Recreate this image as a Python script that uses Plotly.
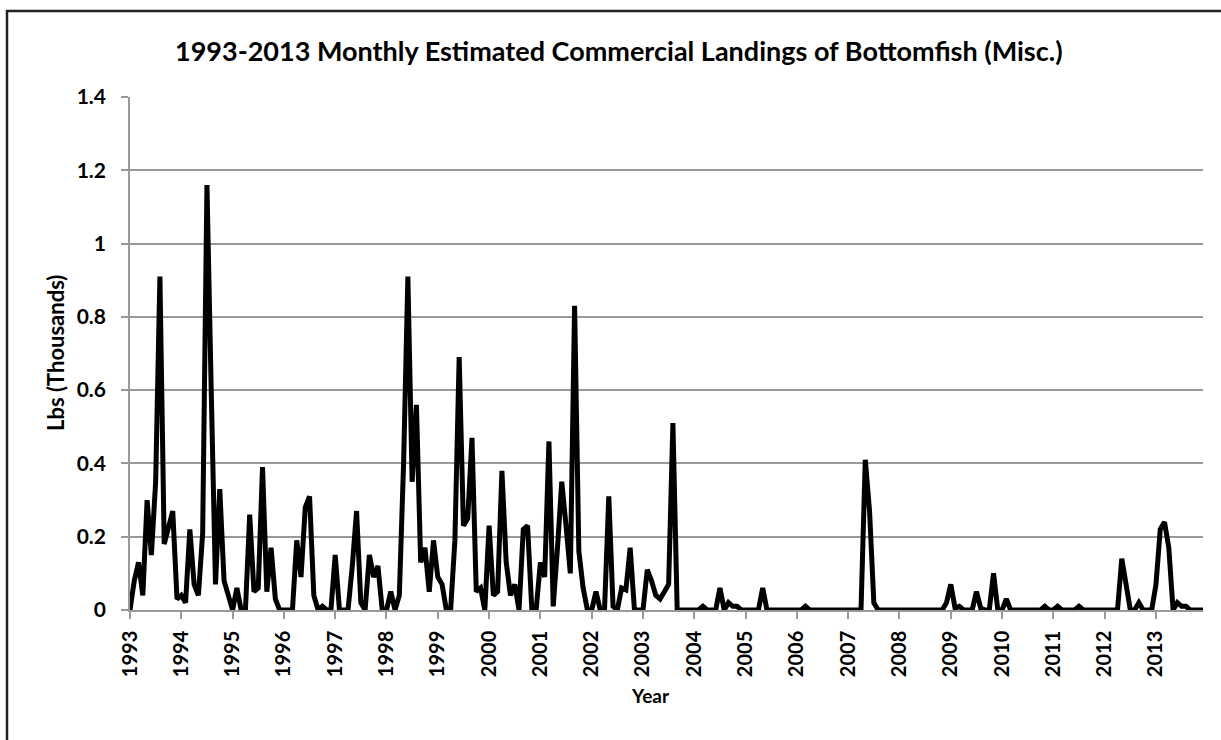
import plotly.graph_objects as go

years = list(range(1993, 2014))

# Monthly landings (thousands of lbs), Jan..Dec per year
y1993 = [0, 0.08, 0.13, 0.04, 0.30, 0.15, 0.35, 0.91, 0.18, 0.22, 0.27, 0.03]
y1994 = [0.04, 0.02, 0.22, 0.07, 0.04, 0.21, 1.16, 0.60, 0.07, 0.33, 0.08, 0.04]
y1995 = [0, 0.06, 0, 0, 0.26, 0.05, 0.06, 0.39, 0.05, 0.17, 0.03, 0]
y1996 = [0, 0, 0, 0.19, 0.09, 0.28, 0.31, 0.04, 0, 0.01, 0, 0]
y1997 = [0.15, 0, 0, 0, 0.12, 0.27, 0.02, 0, 0.15, 0.09, 0.12, 0]
y1998 = [0, 0.05, 0, 0.04, 0.40, 0.91, 0.35, 0.56, 0.13, 0.17, 0.05, 0.19]
y1999 = [0.09, 0.07, 0, 0, 0.19, 0.69, 0.23, 0.25, 0.47, 0.05, 0.06, 0]
y2000 = [0.23, 0.04, 0.05, 0.38, 0.13, 0.04, 0.07, 0, 0.22, 0.23, 0, 0]
y2001 = [0.13, 0.09, 0.46, 0.01, 0.17, 0.35, 0.23, 0.10, 0.83, 0.16, 0.06, 0]
y2002 = [0, 0.05, 0, 0, 0.31, 0.01, 0, 0.06, 0.055, 0.17, 0, 0]
y2003 = [0, 0.11, 0.08, 0.04, 0.03, 0.05, 0.07, 0.51, 0, 0, 0, 0]
y2004 = [0, 0, 0.01, 0, 0, 0, 0.06, 0, 0.02, 0.01, 0.01, 0]
y2005 = [0, 0, 0, 0, 0.06, 0, 0, 0, 0, 0, 0, 0]
y2006 = [0, 0, 0.01, 0, 0, 0, 0, 0, 0, 0, 0, 0]
y2007 = [0, 0, 0, 0, 0.41, 0.27, 0.02, 0, 0, 0, 0, 0]
y2008 = [0, 0, 0, 0, 0, 0, 0, 0, 0, 0, 0, 0.02]
y2009 = [0.07, 0.005, 0.01, 0, 0, 0, 0.05, 0.005, 0, 0, 0.10, 0]
y2010 = [0, 0.03, 0, 0, 0, 0, 0, 0, 0, 0, 0.01, 0]
y2011 = [0, 0.01, 0, 0, 0, 0, 0.01, 0, 0, 0, 0, 0]
y2012 = [0, 0, 0, 0, 0.14, 0.07, 0, 0, 0.02, 0, 0, 0]
y2013 = [0.07, 0.22, 0.24, 0.17, 0, 0.02, 0.01, 0.01, 0, 0, 0, 0]

series = [y1993, y1994, y1995, y1996, y1997, y1998, y1999, y2000, y2001, y2002,
          y2003, y2004, y2005, y2006, y2007, y2008, y2009, y2010, y2011, y2012, y2013]
values = [v for yr in series for v in yr]
months = list(range(len(values)))
tick_vals = [12 * i for i in range(len(years))]
tick_text = [str(y) for y in years]

W, H = 1221, 740
L, R, T, B = 130, 1203, 97, 610
FONT = "Lato"

fig = go.Figure()
fig.add_trace(go.Scatter(x=months, y=values, mode="lines",
                         line=dict(color="black", width=5), hoverinfo="skip"))

def px(x):
    return (x - L) / (R - L)

def py(y):
    return (B - y) / (B - T)

fig.update_layout(
    width=W, height=H,
    margin=dict(l=L, r=W - R, t=T, b=H - B),
    paper_bgcolor="white", plot_bgcolor="white",
    showlegend=False,
    font=dict(family=FONT, color="black"),
    xaxis=dict(range=[0, len(values) - 1], tickvals=tick_vals, ticktext=tick_text,
               tickangle=-90, tickfont=dict(size=20, family=FONT, weight="bold"),
               showgrid=False, zeroline=False, showline=True, linecolor="#999999",
               linewidth=1.5, ticks="outside", ticklen=7, tickcolor="#999999",
               tickwidth=1.5, ticklabelstandoff=4),
    yaxis=dict(range=[0, 1.4], tickvals=[0, 0.2, 0.4, 0.6, 0.8, 1.0, 1.2, 1.4],
               ticktext=["0", "0.2", "0.4", "0.6", "0.8", "1", "1.2", "1.4"],
               tickfont=dict(size=21, family=FONT, weight="bold"),
               showgrid=True, gridcolor="#999999", gridwidth=1.5, zeroline=False,
               showline=True, linecolor="#999999", linewidth=1.5,
               ticks="outside", ticklen=7, tickcolor="#999999", tickwidth=1.5,
               ticklabelstandoff=11),
    annotations=[
        dict(text="1993-2013 Monthly Estimated Commercial Landings of Bottomfish (Misc.)",
             xref="paper", yref="paper", x=px(619), y=py(51), showarrow=False,
             xanchor="center", yanchor="middle",
             font=dict(size=27, family=FONT, weight="bold")),
        dict(text="Lbs (Thousands)", xref="paper", yref="paper", x=px(55), y=py(353),
             textangle=-90, showarrow=False, xanchor="center", yanchor="middle",
             font=dict(size=22, family=FONT, weight="bold")),
        dict(text="Year", xref="paper", yref="paper", x=px(650), y=py(696),
             showarrow=False, xanchor="center", yanchor="middle",
             font=dict(size=19, family=FONT, weight="bold")),
    ],
    shapes=[
        dict(type="rect", xref="paper", yref="paper", x0=px(7), x1=px(1240),
             y0=py(760), y1=py(11), line=dict(color="#222222", width=2.5),
             fillcolor="rgba(0,0,0,0)", layer="below"),
    ],
)

fig.write_html("out.html", config={"displayModeBar": False},
               post_script="document.body.style.margin='0';")
